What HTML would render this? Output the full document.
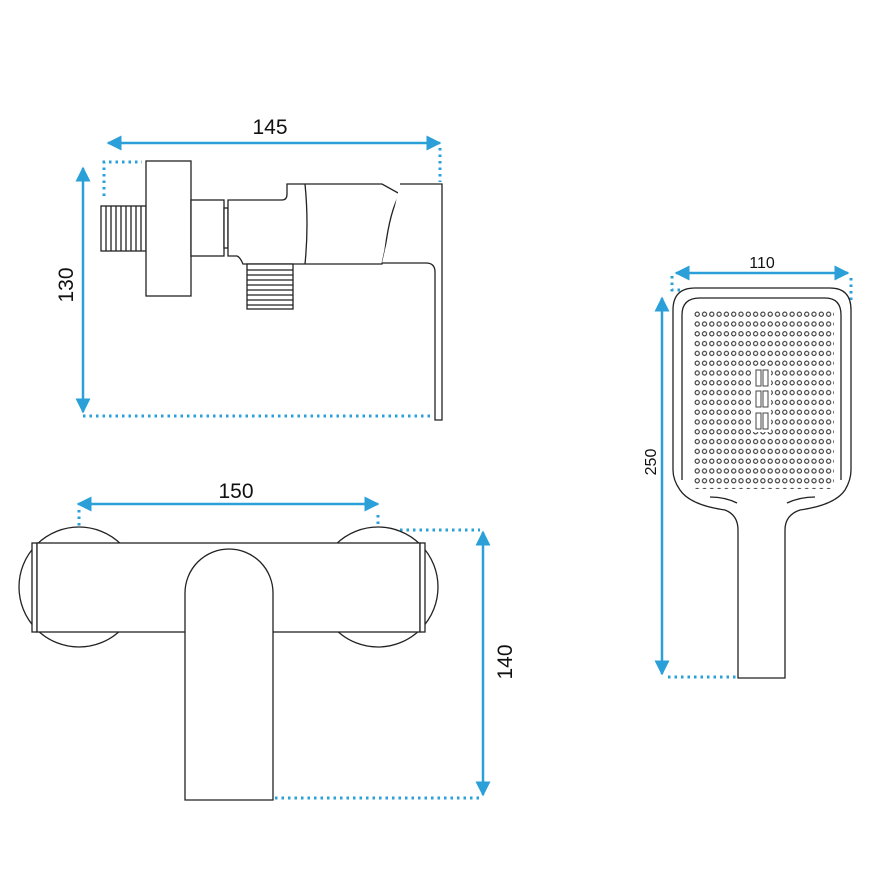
<!DOCTYPE html>
<html><head><style>body{margin:0;background:#fff}svg{display:block}</style></head><body>
<svg width="870" height="870" viewBox="0 0 870 870" xmlns="http://www.w3.org/2000/svg" font-family="Liberation Sans, sans-serif">
<defs>
<marker id="a" viewBox="0 0 10 10" refX="9" refY="5" markerWidth="6" markerHeight="6" orient="auto-start-reverse"><path d="M0,0 L10,5 L0,10 z" fill="#2a9fd8"/></marker>
<pattern id="d" x="694" y="311" width="7.3" height="9.8" patternUnits="userSpaceOnUse"><circle cx="3.2" cy="3.2" r="2.1" fill="none" stroke="#333" stroke-width="1.1"/></pattern>
</defs>
<g stroke="#2a9fd8" stroke-width="2.5" fill="none">
<line x1="108" y1="143" x2="440" y2="143" marker-start="url(#a)" marker-end="url(#a)"/>
<line x1="83" y1="168" x2="83" y2="412" marker-start="url(#a)" marker-end="url(#a)"/>
<line x1="78" y1="504" x2="378" y2="504" marker-start="url(#a)" marker-end="url(#a)"/>
<line x1="483" y1="532" x2="483" y2="795" marker-start="url(#a)" marker-end="url(#a)"/>
<line x1="676" y1="273" x2="848" y2="273" marker-start="url(#a)" marker-end="url(#a)"/>
<line x1="662" y1="298" x2="662" y2="674" marker-start="url(#a)" marker-end="url(#a)"/>
</g>
<g stroke="#2a9fd8" stroke-width="3" fill="none" stroke-dasharray="2.5 4">
<polyline points="104,196 104,162 142,162"/>
<line x1="440" y1="148" x2="440" y2="182"/>
<line x1="83" y1="416" x2="432" y2="416"/>
<line x1="79" y1="510" x2="79" y2="580"/>
<line x1="378" y1="515" x2="378" y2="582"/>
<line x1="400" y1="530" x2="480" y2="530"/>
<line x1="275" y1="798" x2="483" y2="798"/>
<polyline points="672,276 672,290 684,290"/>
<line x1="851" y1="278" x2="851" y2="302"/>
<line x1="668" y1="677" x2="736" y2="677"/>
</g>
<g font-size="21" fill="#111" text-anchor="middle">
<text x="270" y="134">145</text>
<text x="236" y="498">150</text>
<text x="762" y="268" font-size="16">110</text>
<text transform="translate(73,285) rotate(-90)">130</text>
<text transform="translate(512,662) rotate(-90)">140</text>
<text transform="translate(656,462) rotate(-90)" font-size="16">250</text>
</g>
<g stroke="#222" stroke-width="1.3" fill="#fff">
<rect x="101" y="206" width="45" height="45"/>
<path d="M106,206V251M111,206V251M116,206V251M121,206V251M126,206V251M131,206V251M136,206V251M141,206V251" fill="none"/>
<rect x="146" y="161" width="45" height="135"/>
<rect x="191" y="200" width="33" height="56"/>
<rect x="224" y="208" width="4" height="40"/>
<path d="M228,200 H282 Q287,200 287,194 V184 H382 L400,194 Q390,210 385,250 L382,264 H310 H243 Q240,257 237,256 H228 Z"/>
<path d="M305,184 Q309,224 305,264" fill="none"/>
<path d="M400,184 H442 V420 H435 V272 Q435,263 426,263 H382" />
<rect x="247" y="264" width="46" height="45"/>
<path d="M247,270H293M247,275H293M247,280H293M247,285H293M247,290H293M247,295H293M247,300H293M247,305H293" fill="none"/>
<circle cx="79" cy="587" r="60"/>
<circle cx="378" cy="587" r="60"/>
<rect x="32" y="543" width="5" height="89"/>
<rect x="37" y="543" width="383" height="89"/>
<rect x="420" y="543" width="5" height="89"/>
<path d="M185,800 V593 A44,44 0 0 1 273,593 V800 Z"/>
<path d="M738,678 V530 Q738,515 725,510 Q690,505 680,490 Q673,480 673,470 V310 Q673,288 695,288 H830 Q851,288 851,310 V470 Q851,480 845,490 Q835,505 800,510 Q785,515 785,530 V678 Z"/>
<path d="M682,480 V315 Q682,298 700,298 H825 Q841,298 841,315 V480" fill="none"/>
<path d="M710,497 Q725,497 737,503 M787,503 Q800,497 815,497" fill="none"/>
</g>
<rect x="694" y="311" width="140" height="178" fill="url(#d)"/>
<rect x="753" y="366" width="18" height="66" fill="#fff"/>
<g stroke="#444" stroke-width="1" fill="none">
<rect x="756" y="370" width="5" height="16"/><rect x="763" y="370" width="5" height="16"/>
<rect x="756" y="391" width="5" height="16"/><rect x="763" y="391" width="5" height="16"/>
<rect x="756" y="413" width="5" height="16"/><rect x="763" y="413" width="5" height="16"/>
</g>
</svg>
</body></html>
